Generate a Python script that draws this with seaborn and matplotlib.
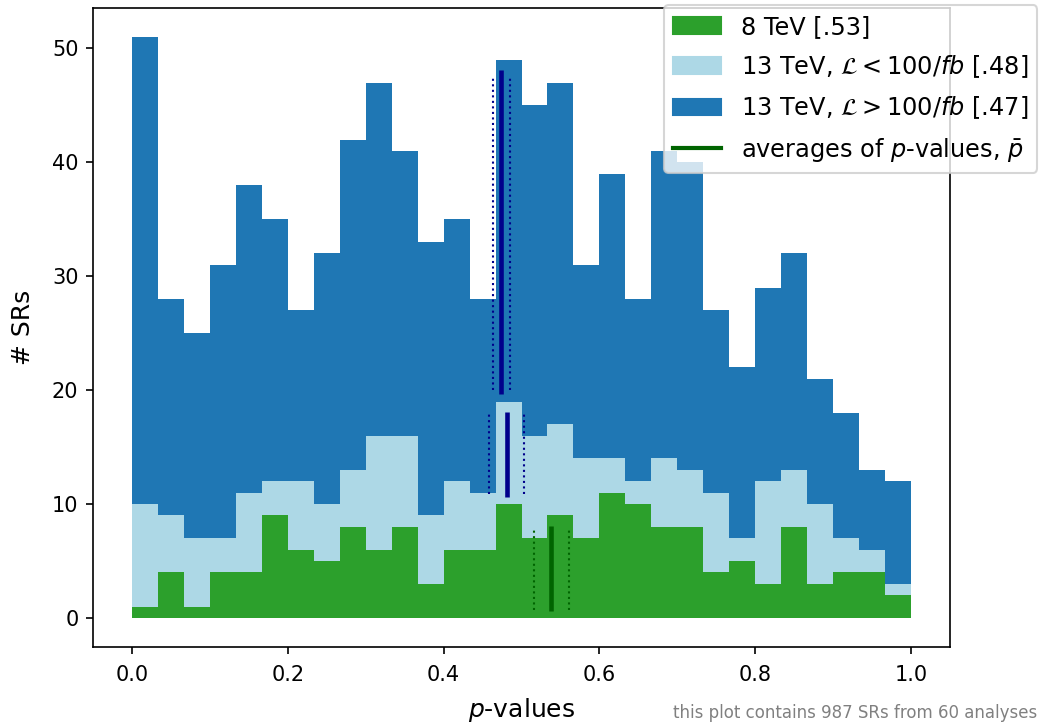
import numpy as np
import pandas as pd
import seaborn as sns
import matplotlib.pyplot as plt
from matplotlib.patches import Patch
from matplotlib.lines import Line2D

# 30 equal bins of p-values
n_bins = 30

counts_8tev = [1, 4, 1, 4, 4, 9, 6, 5, 8, 6,
               8, 3, 6, 6, 10, 7, 9, 7, 11, 10,
               8, 8, 4, 5, 3, 8, 3, 4, 4, 2]
counts_13_low = [9, 5, 6, 3, 7, 3, 6, 5, 5, 10,
                 8, 6, 6, 5, 9, 9, 8, 7, 3, 2,
                 6, 5, 7, 2, 9, 5, 7, 3, 2, 1]
counts_13_high = [41, 19, 18, 24, 27, 23, 15, 22, 29, 31,
                  25, 24, 23, 17, 30, 29, 30, 17, 25, 16,
                  27, 27, 16, 15, 17, 19, 11, 11, 7, 9]

labels = ["8 TeV [.53]",
          r"13 TeV, $\mathcal{L} < 100/fb$ [.48]",
          r"13 TeV, $\mathcal{L} > 100/fb$ [.47]"]
colors = ["#2ca02c", "lightblue", "#1f77b4"]

# averages of p-values with their uncertainties
mean_p = [0.538, 0.481, 0.474]
mean_err = [0.0225, 0.0225, 0.011]
solid_lo = [0.6, 10.65, 19.7]
solid_hi = [8.1, 18.1, 48.1]
dot_lo = [0.7, 10.9, 20.0]
dot_hi = [7.8, 17.9, 47.6]
mean_colors = ["darkgreen", "darkblue", "darkblue"]

n_srs, n_ana = 987, 60

bin_edges = np.linspace(0, 1, n_bins + 1)
centers = (bin_edges[:-1] + bin_edges[1:]) / 2
rows = []
for lab, cnt in zip(labels, [counts_8tev, counts_13_low, counts_13_high]):
    for c, n in zip(centers, cnt):
        rows.append({"p": c, "n": n, "sample": lab})
df = pd.DataFrame(rows)

fig = plt.figure(figsize=(1040 / 150, 725 / 150), dpi=150)
ax = fig.add_axes([0.0894, 0.1076, 0.8241, 0.8814])

sns.histplot(data=df, x="p", weights="n", hue="sample",
             hue_order=labels[::-1], palette=dict(zip(labels, colors)),
             multiple="stack", bins=n_bins, binrange=(0, 1),
             element="step", fill=True,
             alpha=1, linewidth=0, legend=False, ax=ax)

for m, e, lo, hi, dlo, dhi, col in zip(mean_p, mean_err, solid_lo, solid_hi,
                                        dot_lo, dot_hi, mean_colors):
    ax.vlines(m, lo, hi, color=col, lw=2.2)
    ax.vlines([m - e, m + e], dlo, dhi, color=col, lw=1, linestyles=":")

ax.set_xlim(-0.05, 1.05)
ax.set_ylim(-2.55, 53.55)
ax.set_xlabel("$p$-values", fontsize=12, labelpad=5.5)
ax.set_ylabel("# SRs", fontsize=12, labelpad=8)
ax.set_yticks([0, 10, 20, 30, 40, 50])
ax.tick_params(axis="x", pad=5)

handles = [Patch(color=c) for c in colors]
handles.append(Line2D([], [], color="darkgreen", lw=2))
ax.legend(handles, labels + [r"averages of $p$-values, $\bar{p}$"],
          loc="upper right", bbox_to_anchor=(1.116, 1.023), fontsize=11.5,
          labelspacing=0.6)

fig.text(0.997, 0.004, f"this plot contains {n_srs} SRs from {n_ana} analyses",
         color="grey", fontsize=8, ha="right", va="bottom")

fig.savefig("out.png", dpi=150)
